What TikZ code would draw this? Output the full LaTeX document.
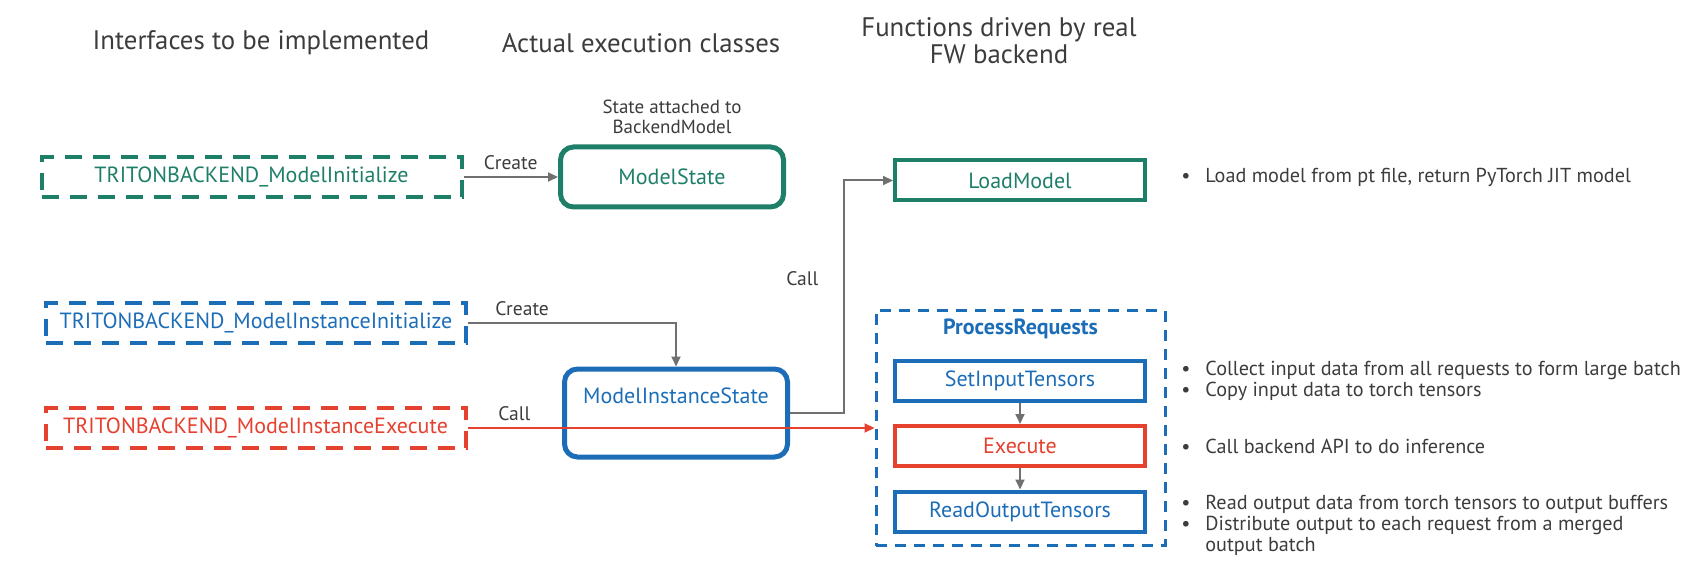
\documentclass[tikz,border=0pt]{standalone}
\usepackage{fontspec}
\setmainfont{PT Sans}
\usetikzlibrary{positioning,arrows.meta}
\definecolor{nvgreen}{HTML}{1E7F68}
\definecolor{nvblue}{HTML}{1C6DB7}
\definecolor{nvred}{HTML}{E6402F}
\definecolor{txtgray}{HTML}{3C3C3C}
\definecolor{lngray}{HTML}{707070}
\newcommand{\bul}{\makebox[12pt][l]{\textbullet}}

\begin{document}
\begin{tikzpicture}[x=0.5pt, y=-0.5pt, >={Triangle[length=5pt,width=4.5pt]},
    title/.style={font=\fontsize{13.4}{13.5}\selectfont, text=txtgray, align=center, inner sep=0},
    dashbox/.style={draw, line width=2pt, dash pattern=on 8.5pt off 5.5pt, minimum width=210pt, minimum height=20pt, inner sep=0, font=\fontsize{11}{12}\selectfont},
    statebox/.style={draw, rounded corners=6.5pt, line width=2.5pt, minimum width=111.5pt, inner sep=0, font=\fontsize{11}{12}\selectfont},
    funcbox/.style={draw, line width=2pt, minimum width=125pt, minimum height=20pt, inner sep=0, font=\fontsize{11}{12}\selectfont},
    note/.style={font=\fontsize{10.1}{10.5}\selectfont, text=txtgray, align=left, inner sep=0, anchor=west},
    lbl/.style={font=\fontsize{9.8}{11}\selectfont, text=txtgray},
    conn/.style={->, line width=1pt, lngray}]
    \useasboundingbox (0,0) rectangle (1689,582);
        \node[title] (tIface) at (261,43) {Interfaces to be implemented};
        \node[title] (tExec) at (641,43) {Actual execution classes};
        \node[title] (tFunc) at (999,41) {Functions driven by real\\FW backend};
        \node[dashbox, draw=nvgreen, text=nvgreen] (mInit) at (251.5,177) {TRITONBACKEND\_ModelInitialize};
        \node[statebox, draw=nvgreen, text=nvgreen, minimum height=30pt] (mState) at (672,177) {ModelState};
        \node[lbl, align=center, font=\fontsize{9.5}{10}\selectfont] (mNote) at (672,117) {State attached to\\BackendModel};
        \node[funcbox, draw=nvgreen, text=nvgreen] (load) at (1020,180.5) {LoadModel};
        \node[note, right=17pt of load, yshift=1.75pt] (loadTxt) {\bul Load model from pt file, return PyTorch JIT model};
        \node[dashbox, draw=nvblue, text=nvblue] (iInit) at (256,323) {TRITONBACKEND\_ModelInstanceInitialize};
        \node[dashbox, draw=nvred, text=nvred] (iExec) at (255.5,428) {TRITONBACKEND\_ModelInstanceExecute};
        \node[statebox, draw=nvblue, text=nvblue, minimum height=44pt, text depth=17pt] (iState) at (676,413) {ModelInstanceState};
        \node[draw=nvblue, line width=1.5pt, dash pattern=on 5.5pt off 4pt, minimum width=144.5pt, minimum height=117.5pt, label={[anchor=center, yshift=-10pt, text=nvblue, font=\fontsize{11}{12}\selectfont\bfseries]north:ProcessRequests}] (proc) at (1020.5,428) {};
        \node[funcbox, draw=nvblue, text=nvblue] (setIn) at (1020,380.5) {SetInputTensors};
        \node[funcbox, draw=nvred, text=nvred, below=10.75pt of setIn] (exec) {Execute};
        \node[funcbox, draw=nvblue, text=nvblue, below=10.75pt of exec] (readOut) {ReadOutputTensors};
        \node[note, right=17pt of setIn] (setTxt) {\bul Collect input data from all requests to form large batch\\\bul Copy input data to torch tensors};
        \node[note, right=17pt of exec] (execTxt) {\bul Call backend API to do inference};
        \node[note, right=17pt of readOut, yshift=-7pt] (readTxt) {\bul Read output data from torch tensors to output buffers\\\bul Distribute output to each request from a merged\\\phantom{\bul}output batch};
        \draw[conn] (mInit) -- node[lbl, above] {Create} (mState);
        \draw[conn] (iInit) -| node[lbl, above, pos=0.13] {Create} (iState);
        \draw[conn] (iState.east) -- ++(54,0) |- node[lbl, left=9pt, pos=0.29] {Call} (load.west);
        \draw[->, line width=1pt, nvred] (iExec) -- node[lbl, above, pos=0.115] {Call} (proc);
        \draw[conn] (setIn) -- (exec);
        \draw[conn] (exec) -- (readOut);
    \end{tikzpicture}
\end{document}
